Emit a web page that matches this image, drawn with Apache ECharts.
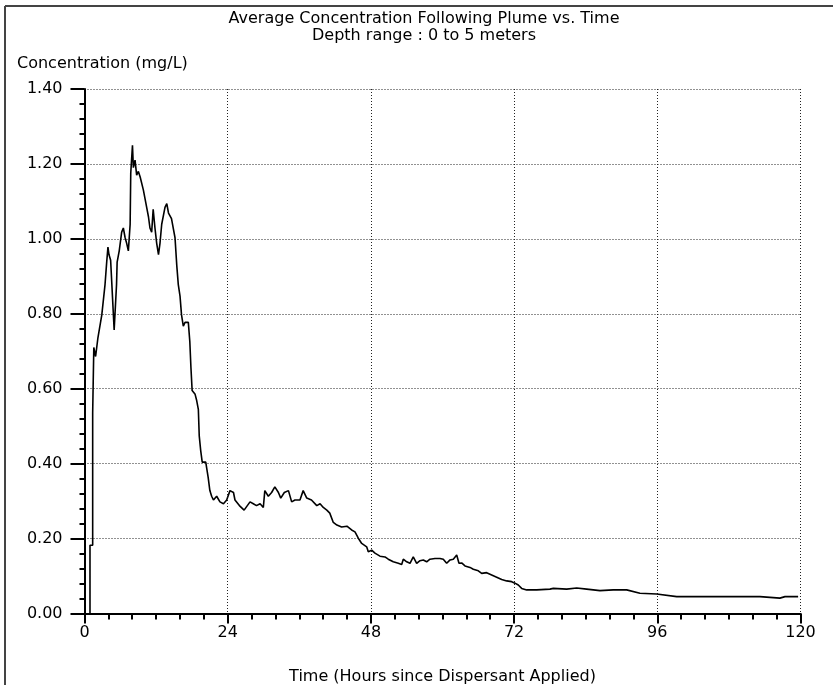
<!DOCTYPE html>
<html>
<head>
<meta charset="utf-8">
<script src="https://cdn.jsdelivr.net/npm/echarts@6/dist/echarts.min.js"></script>
<style>
html,body{margin:0;padding:0;background:#fff;}
#chart1{width:833px;height:685px;}
</style>
</head>
<body>
<div id="chart1"></div>
<script>
// hours since dispersant applied
var hours = [0.92,0.92,1.37,1.37,1.56,1.86,2.25,2.9,3.44,3.72,3.93,4.1,4.38,4.97,5.37,5.47,5.82,6.23,6.51,6.81,7.07,7.35,7.65,7.75,8.04,8.19,8.47,8.74,9.03,9.33,9.87,10.42,10.72,10.97,11.26,11.51,11.81,12.1,12.4,12.65,12.94,13.49,13.79,14.08,14.58,15.17,15.47,15.72,16.01,16.26,16.56,16.85,17.4,17.65,17.84,18.04,18.54,18.78,19.08,19.23,19.48,19.73,20.32,20.72,21.01,21.31,21.61,22.15,22.7,23.29,23.83,24.38,24.97,25.22,25.96,26.75,27.74,28.29,28.83,29.43,29.97,30.22,30.81,31.36,31.9,32.5,32.89,33.49,34.18,34.72,35.27,36.11,36.65,37.25,38.04,38.93,39.48,40.02,40.61,41.11,41.7,42.3,43.09,43.98,44.77,45.33,45.89,46.46,47.29,47.56,48.13,48.68,49.52,50.36,50.91,51.75,52.59,53.16,53.43,54.0,54.55,55.1,55.67,56.23,56.78,57.35,57.9,58.74,59.58,60.13,60.7,61.26,61.81,62.38,62.76,63.21,63.77,64.61,65.16,66.0,66.57,67.4,68.24,69.08,69.92,70.76,71.59,72.15,72.7,73.27,74.11,75.78,78.01,78.57,80.81,82.49,84.16,86.39,88.62,90.87,93.09,95.89,96.16,99.25,102.03,107.6,113.2,116.55,117.4,119.6];
// average concentration (mg/L)
var conc = [0,0.182,0.182,0.535,0.71,0.686,0.736,0.797,0.878,0.938,0.978,0.958,0.943,0.757,0.878,0.938,0.968,1.018,1.029,1.003,0.988,0.968,1.039,1.175,1.25,1.19,1.21,1.17,1.18,1.165,1.13,1.084,1.059,1.029,1.018,1.079,1.029,0.988,0.958,0.988,1.039,1.084,1.094,1.069,1.054,1.003,0.928,0.878,0.847,0.797,0.767,0.777,0.777,0.726,0.656,0.595,0.585,0.57,0.545,0.474,0.434,0.404,0.404,0.364,0.328,0.313,0.303,0.313,0.298,0.293,0.303,0.328,0.323,0.303,0.288,0.276,0.298,0.293,0.288,0.293,0.283,0.328,0.313,0.323,0.338,0.323,0.308,0.323,0.328,0.298,0.303,0.303,0.328,0.308,0.303,0.288,0.293,0.283,0.276,0.268,0.243,0.236,0.231,0.233,0.223,0.218,0.201,0.187,0.178,0.165,0.169,0.161,0.153,0.151,0.145,0.138,0.134,0.131,0.145,0.138,0.134,0.151,0.134,0.141,0.143,0.138,0.145,0.147,0.147,0.145,0.134,0.143,0.145,0.156,0.134,0.135,0.127,0.123,0.118,0.114,0.107,0.109,0.103,0.097,0.091,0.087,0.085,0.081,0.076,0.067,0.063,0.063,0.065,0.067,0.065,0.068,0.065,0.061,0.063,0.063,0.054,0.052,0.047,0.045,0.045,0.045,0.045,0.041,0.045,0.045];

var xTicks = [0, 24, 48, 72, 96, 120];
var yTicks = [0, 0.2, 0.4, 0.6, 0.8, 1.0, 1.2, 1.4];

var titleText = 'Average Concentration Following Plume vs. Time';
var subText = 'Depth range : 0 to 5 meters';
var yName = 'Concentration (mg/L)';
var xName = 'Time (Hours since Dispersant Applied)';

var font = "'DejaVu Sans', sans-serif";

var points = [];
for (var i = 0; i < hours.length; i++) {
	points.push([hours[i], conc[i]]);
}

var myChart = echarts.init(document.getElementById("chart1"));

var option = {
	animation : false,
	backgroundColor : '#fff',
	grid : {
		left : 84.5,
		right : 32.5,
		top : 89,
		bottom : 71.5,
		containLabel : false,
		outerBoundsMode : 'none'
	},
	graphic : [
		// frame (top and left edges only)
		{ type : 'line', shape : { x1 : 5, y1 : 6, x2 : 833, y2 : 6 }, style : { stroke : '#444', lineWidth : 2 } },
		{ type : 'line', shape : { x1 : 5, y1 : 6, x2 : 5, y2 : 685 }, style : { stroke : '#444', lineWidth : 2 } },
		{ type : 'text', style : { x : 424, y : 11, text : titleText, textAlign : 'center', textVerticalAlign : 'top', font : '16px ' + font, fill : '#000' } },
		{ type : 'text', style : { x : 424, y : 28, text : subText, textAlign : 'center', textVerticalAlign : 'top', font : '16px ' + font, fill : '#000' } },
		{ type : 'text', style : { x : 17, y : 56, text : yName, textVerticalAlign : 'top', font : '16px ' + font, fill : '#000' } }
	],
	xAxis : {
		type : 'value',
		min : xTicks[0],
		max : xTicks[xTicks.length - 1],
		interval : 24,
		name : xName,
		nameLocation : 'middle',
		nameGap : 55,
		nameTextStyle : { fontFamily : font, fontSize : 16, color : '#000' },
		axisLine : { lineStyle : { color : '#000', width : 2 } },
		axisTick : { length : 10, lineStyle : { color : '#000', width : 2 } },
		minorTick : { show : true, splitNumber : 6, length : 6, lineStyle : { color : '#000', width : 2 } },
		axisLabel : { margin : 11, fontFamily : font, fontSize : 16, color : '#000' },
		splitLine : { show : true, lineStyle : { color : '#222', width : 1, type : [1, 2] } }
	},
	yAxis : {
		type : 'value',
		min : yTicks[0],
		max : yTicks[yTicks.length - 1],
		interval : 0.2,
		axisLine : { show : true, lineStyle : { color : '#000', width : 2 } },
		axisTick : { show : true, length : 14, lineStyle : { color : '#000', width : 2 } },
		minorTick : { show : true, splitNumber : 5, length : 5, lineStyle : { color : '#000', width : 2 } },
		axisLabel : {
			margin : 22,
			fontFamily : font,
			fontSize : 16,
			color : '#000',
			formatter : function(v) { return v.toFixed(2); }
		},
		splitLine : { show : true, lineStyle : { color : '#222', width : 1, type : [1, 2] } }
	},
	series : [
		{
			name : 'Concentration',
			type : 'line',
			data : points,
			symbol : 'none',
			sampling : 'none',
			lineStyle : { color : '#000', width : 1.6 },
			z : 3
		}
	]
};

myChart.setOption(option);
</script>
</body>
</html>
